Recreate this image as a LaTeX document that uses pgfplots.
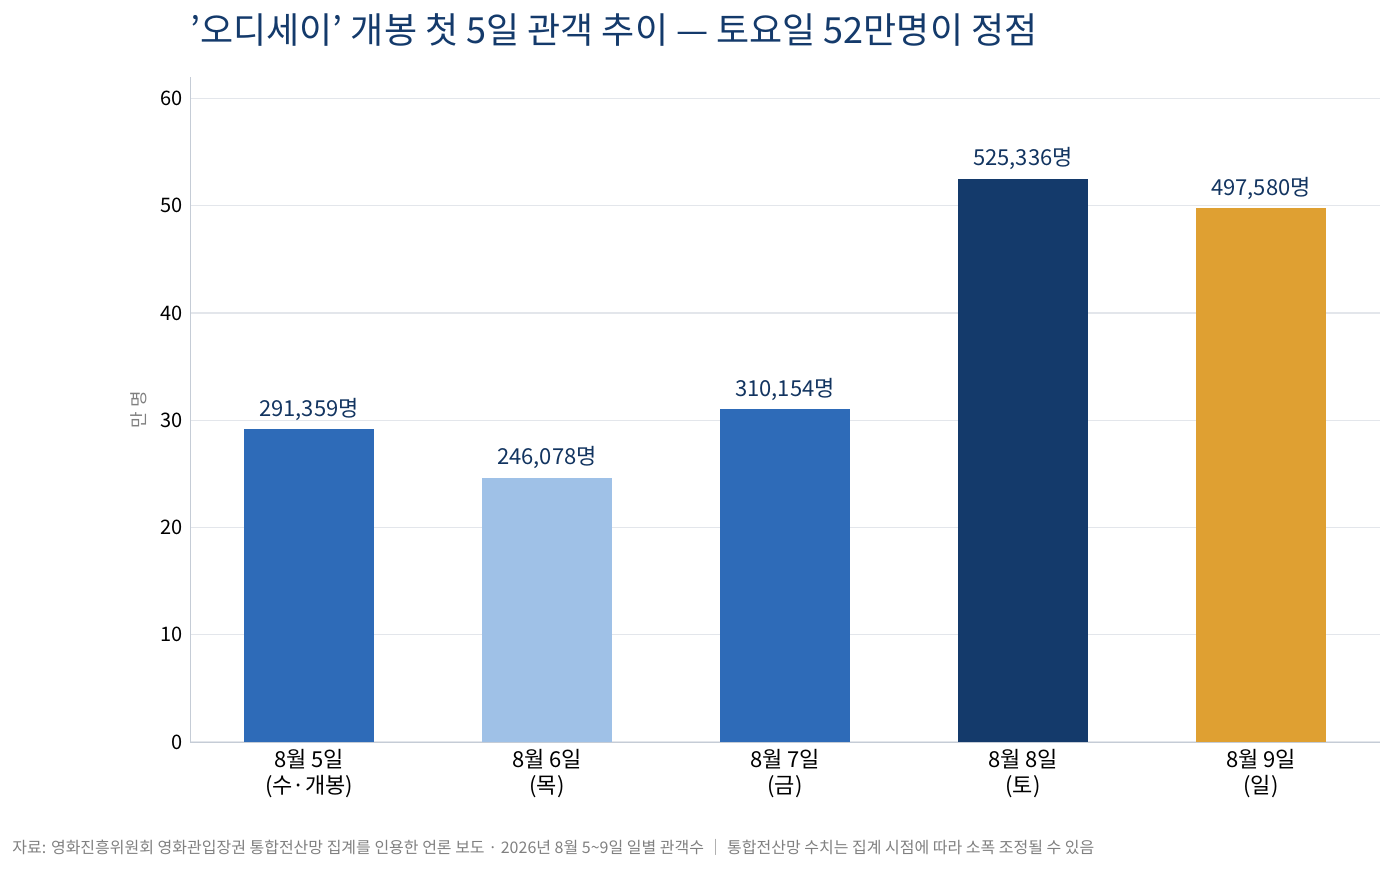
\documentclass[border=0pt]{standalone}
\usepackage{pgfplots}
\pgfplotsset{compat=1.18}
\usepackage{fontspec}
\setmainfont{Noto Sans CJK KR}
\definecolor{cA}{HTML}{2E6BB8}
\definecolor{cB}{HTML}{9FC1E7}
\definecolor{cC}{HTML}{143A6B}
\definecolor{cD}{HTML}{DFA032}
\definecolor{titleC}{HTML}{143A6B}
\definecolor{gridC}{HTML}{E3E6EB}
\definecolor{axC}{HTML}{C5CCD6}
\begin{document}
\begin{tikzpicture}
\useasboundingbox (0,0) rectangle (696pt,436pt);
\begin{axis}[at={(95pt,65pt)}, anchor=south west,
  scale only axis, width=595pt, height=332.5pt,
  xmin=-0.5, xmax=4.5, ymin=0, ymax=62,
  ybar, bar width=65pt, bar shift=0pt,
  axis x line*=bottom, axis y line*=left,
  axis line style={axC},
  xtick={0,1,2,3,4},
  xticklabels={{8월 5일\\(수·개봉)},{8월 6일\\(목)},{8월 7일\\(금)},{8월 8일\\(토)},{8월 9일\\(일)}},
  xticklabel style={align=center, font=\fontsize{11}{13}\selectfont},
  ytick={0,10,20,30,40,50,60},
  yticklabel style={font=\fontsize{10}{12}\selectfont},
  /pgf/number format/assume math mode=true,
  major tick length=0pt,
  ymajorgrids, grid style={gridC, line width=0.6pt},
  ylabel={만 명}, ylabel style={font=\fontsize{9}{11}\selectfont, text=gray},
  nodes near coords, point meta=explicit symbolic,
  every node near coord/.append style={font=\fontsize{11}{13}\selectfont, text=titleC!90!black, yshift=1pt},
]
\addplot[fill=cA, draw=none] coordinates {(0,29.1359) [{291,359명}]};
\addplot[fill=cB, draw=none] coordinates {(1,24.6078) [{246,078명}]};
\addplot[fill=cA, draw=none] coordinates {(2,31.0154) [{310,154명}]};
\addplot[fill=cC, draw=none] coordinates {(3,52.5336) [{525,336명}]};
\addplot[fill=cD, draw=none] coordinates {(4,49.7580) [{497,580명}]};
\end{axis}
\node[anchor=west, inner sep=0, text=titleC, font=\fontsize{18}{22}\selectfont] at (95pt,421pt) {'오디세이' 개봉 첫 5일 관객 추이 — 토요일 52만명이 정점};
\node[anchor=west, inner sep=0, text=gray, font=\fontsize{8}{10}\selectfont] at (6pt,12.5pt) {자료: 영화진흥위원회 영화관입장권 통합전산망 집계를 인용한 언론 보도 · 2026년 8월 5\textasciitilde 9일 일별 관객수 │ 통합전산망 수치는 집계 시점에 따라 소폭 조정될 수 있음};
\end{tikzpicture}
\end{document}
